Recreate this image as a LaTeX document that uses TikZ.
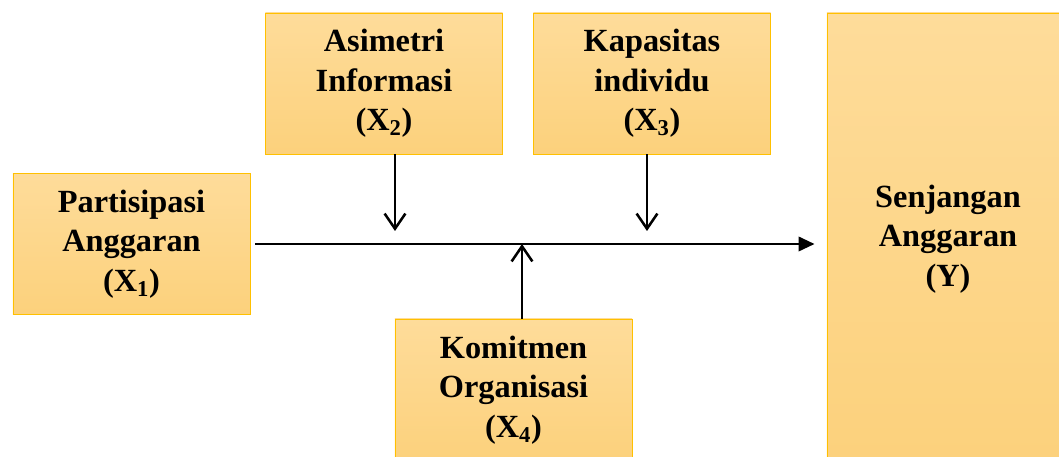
\documentclass[tikz,border=0pt]{standalone}
\usepackage{fontspec}
\setmainfont{Liberation Serif}
\usetikzlibrary{arrows.meta,positioning,calc}
\definecolor{boxtop}{HTML}{FEDC9A}
\definecolor{boxbot}{HTML}{FCD17C}
\definecolor{boxline}{HTML}{FFC000}

\begin{document}
\begin{tikzpicture}[
  x=0.025cm, y=-0.025cm,
  font=\fontsize{23}{28}\selectfont\bfseries,
  var/.style={draw=boxline, line width=0.6pt, top color=boxtop, bottom color=boxbot,
    align=center, minimum width=5.925cm, minimum height=3.525cm, inner sep=0pt},
  flow/.style={line width=1.8pt, -{Triangle[length=0.4cm, width=0.36cm]}},
  infl/.style={line width=1.8pt, -{Straight Barb[length=0.38cm, width=0.52cm]}},
]
  \useasboundingbox (0,0) rectangle (1059,457);

  % variables
  \node[var] (x1) at (131.5,244) {Partisipasi\\Anggaran\\(X\textsubscript{1})};
  \node[var] (x2) at (384,83.5) {Asimetri\\Informasi\\(X\textsubscript{2})};
  \node[var] (x3) at (652,83.5) {Kapasitas\\individu\\(X\textsubscript{3})};
  \node[var, minimum height=3.55cm] (x4) at (513.5,390) {Komitmen\\Organisasi\\(X\textsubscript{4})};
  \node[var, minimum width=6.05cm, minimum height=11.3cm] (y) at (948,239)
    {Senjangan\\Anggaran\\(Y)};

  % points on the main path
  \coordinate (t2) at (395,231);
  \coordinate (t3) at (647,231);
  \coordinate (t4) at (522,244);

  \draw[flow, shorten <=0.12cm, shorten >=0.3cm] (x1.east) -- (x1.east -| y.west);
  \draw[infl] (t2 |- x2.south) -- (t2);
  \draw[infl] (t3 |- x3.south) -- (t3);
  \draw[infl] (t4 |- x4.north) -- (t4);
\end{tikzpicture}
\end{document}
